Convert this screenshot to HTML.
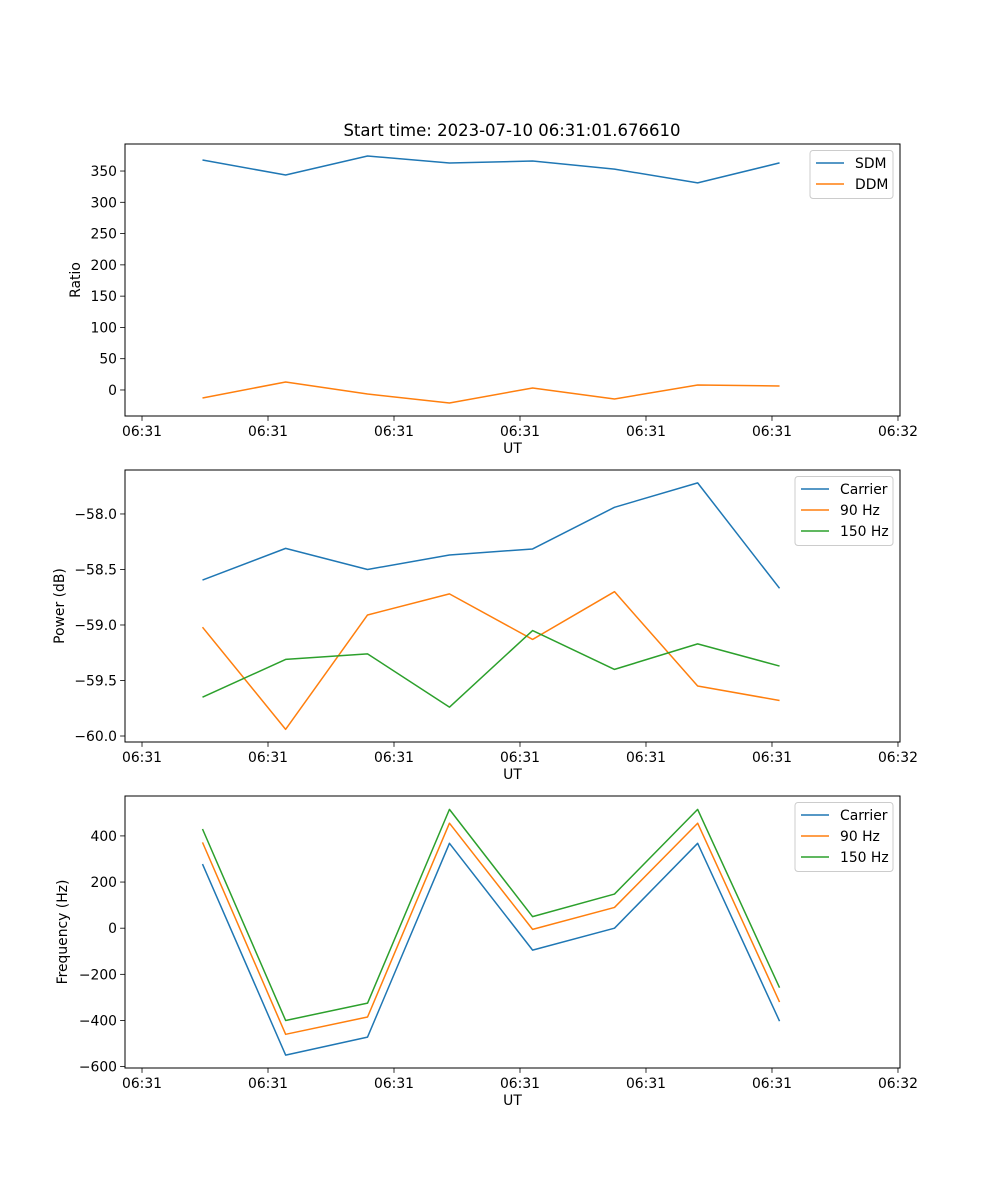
<!DOCTYPE html>
<html><head><meta charset="utf-8">
<style>
html,body{margin:0;padding:0;background:#fff;}
svg{display:block;font-family:"DejaVu Sans","Liberation Sans",sans-serif;}
</style></head>
<body>
<svg id="fig" width="1000" height="1200" viewBox="0 0 1000 1200">
<rect width="1000" height="1200" fill="#fff"/>
<text x="512" y="136" font-size="16.5" text-anchor="middle">Start time: 2023-07-10 06:31:01.676610</text>
</svg>
<script>
// shared x data (seconds after 06:31:00)
const times = [1.748, 1.814, 1.879, 1.944, 2.010, 2.075, 2.141, 2.206];
const xTickVals = [1.7, 1.8, 1.9, 2.0, 2.1, 2.2, 2.3];
const xTickLabels = ["06:31","06:31","06:31","06:31","06:31","06:31","06:32"];

// panel 1
const sdm = [367.6, 343.6, 374, 362.8, 366, 353, 331, 363];
const ddm = [-12.8, 12.8, -6.4, -20.8, 3.2, -14.4, 8, 6.4];
const ratioTicks = [0, 50, 100, 150, 200, 250, 300, 350];
// panel 2
const pCarrier = [-58.595, -58.31, -58.50, -58.37, -58.315, -57.94, -57.72, -58.67];
const p90 = [-59.02, -59.94, -58.91, -58.72, -59.13, -58.70, -59.55, -59.68];
const p150 = [-59.65, -59.31, -59.26, -59.74, -59.05, -59.40, -59.17, -59.37];
const powerTicks = [-60.0, -59.5, -59.0, -58.5, -58.0];
// panel 3
const fCarrier = [278, -550, -472, 368, -95, 0, 368, -403];
const f90 = [372, -460, -385, 455, -5, 90, 455, -320];
const f150 = [430, -400, -325, 515, 50, 148, 515, -258];
const freqTicks = [-600, -400, -200, 0, 200, 400];

const NS = "http://www.w3.org/2000/svg";
const svg = document.getElementById("fig");
const C = ["#1f77b4", "#ff7f0e", "#2ca02c"];
const L = 125, R = 900;
const xMin = 1.6865, xMax = 2.3016;
function xs(t){ return L + (t - xMin) / (xMax - xMin) * (R - L); }

function mk(tag, attrs, parent){
  const e = document.createElementNS(NS, tag);
  for (const k in attrs) e.setAttribute(k, attrs[k]);
  (parent || svg).appendChild(e);
  return e;
}

function panel(name, top, bot, yMin, yMax, yTicks, fmt, ylabel, ylabelX, series, names, legend){
  const g = mk("g", {});
  
  
  const ys = v => bot - (v - yMin) / (yMax - yMin) * (bot - top);
  series.forEach((s, i) => {
    const d = s.map((v, j) => (j ? "L" : "M") + xs(times[j]).toFixed(2) + " " + ys(v).toFixed(2)).join(" ");
    const p = mk("path", {d: d, fill: "none", stroke: C[i], "stroke-width": 1.5, "stroke-linejoin": "round"}, g);
    
    
  });
  const fr = mk("rect", {x: L, y: top, width: R - L, height: bot - top, fill: "none", stroke: "#000", "stroke-width": 1}, g);
  
  
  xTickVals.forEach((t, i) => {
    const x = xs(t);
    mk("line", {x1: x, x2: x, y1: bot, y2: bot + 4.9, stroke: "#000", "stroke-width": 0.8}, g);
    const tx = mk("text", {x: x, y: bot + 20, "font-size": 13.9, "text-anchor": "middle"}, g);
    tx.textContent = xTickLabels[i];
    
    
  });
  const xl = mk("text", {x: (L + R) / 2, y: bot + 37, "font-size": 13.9, "text-anchor": "middle"}, g);
  xl.textContent = "UT";
  
  
  yTicks.forEach(v => {
    const y = ys(v);
    mk("line", {x1: L - 4.9, x2: L, y1: y, y2: y, stroke: "#000", "stroke-width": 0.8}, g);
    const tx = mk("text", {x: L - 8, y: y + 5, "font-size": 13.9, "text-anchor": "end"}, g);
    tx.textContent = fmt(v);
    
    
  });
  const cy = (top + bot) / 2;
  const yl = mk("text", {x: ylabelX, y: cy, "font-size": 13.9, "text-anchor": "middle", transform: "rotate(-90 " + ylabelX + " " + cy + ")"}, g);
  yl.textContent = ylabel;
  
  
  const lg = mk("g", {}, g);
  
  
  mk("rect", {x: legend[0], y: top + 6.5, width: R - 7 - legend[0], height: names.length * 21 + 6, rx: 3, fill: "#fff", "fill-opacity": 0.8, stroke: "#ccc", "stroke-width": 1}, lg);
  names.forEach((n, i) => {
    const y = top + 19 + i * 21;
    const e = mk("g", {}, lg);
    
    
    mk("line", {x1: legend[0] + 6, x2: legend[0] + 34, y1: y, y2: y, stroke: C[i], "stroke-width": 1.5}, e);
    const t = mk("text", {x: legend[0] + 45, y: y + 5, "font-size": 13.9}, e);
    t.textContent = n;
  });
}

panel("ratio", 144, 416, -41.6, 393.2, ratioTicks, v => String(v), "Ratio", 80, [sdm, ddm], ["SDM", "DDM"], [810]);
panel("power", 470, 742, -60.054, -57.604, powerTicks, v => "\u2212" + Math.abs(v).toFixed(1), "Power (dB)", 64, [pCarrier, p90, p150], ["Carrier", "90 Hz", "150 Hz"], [795]);
panel("frequency", 796, 1068, -606, 573, freqTicks, v => (v < 0 ? "\u2212" : "") + Math.abs(v), "Frequency (Hz)", 67, [fCarrier, f90, f150], ["Carrier", "90 Hz", "150 Hz"], [795]);
</script>
</body></html>
